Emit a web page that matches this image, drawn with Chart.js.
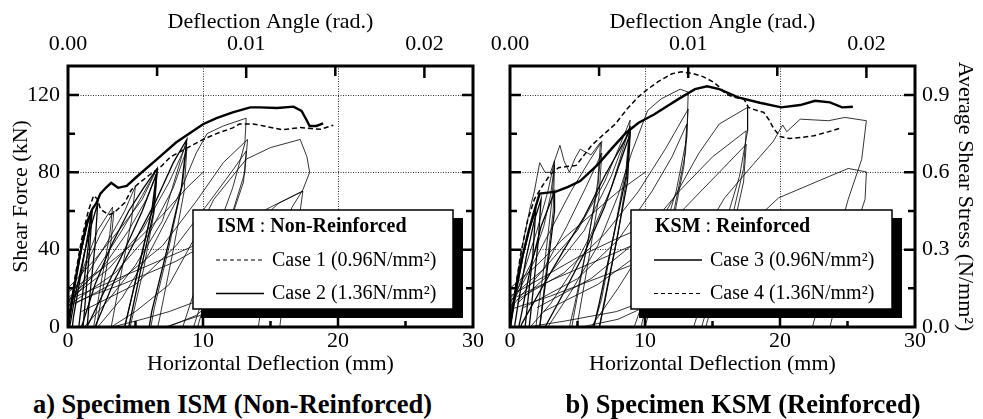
<!DOCTYPE html>
<html>
<head>
<meta charset="utf-8">
<script src="https://cdn.jsdelivr.net/npm/chart.js@4.4.0/dist/chart.umd.min.js"></script>
<style>
  html, body { margin: 0; padding: 0; background: #fff; }
  #wrap { position: relative; width: 983px; height: 419px; overflow: hidden; }
  canvas { position: absolute; top: 0; }
  #cvA { left: 0; }
  #cvB { left: 475px; }
  .cap { position: absolute; top: 389px; font: bold 26.5px/30px "Liberation Serif", "Times New Roman", serif; text-align: center; white-space: nowrap; color: #000; }
</style>
</head>
<body>
<div id="wrap">
  <canvas id="cvA" width="490" height="380"></canvas>
  <canvas id="cvB" width="508" height="380"></canvas>
  <div class="cap" style="left:0;width:465px">a) Specimen ISM (Non-Reinforced)</div>
  <div class="cap" style="left:503px;width:480px">b) Specimen KSM (Reinforced)</div>
</div>
<script>
// axis ticks
var mmTicks = [0, 5, 10, 15, 20, 25, 30];
var mmLabels = [0, 10, 20, 30];
var kNTicks = [0, 20, 40, 60, 80, 100, 120];
var kNLabels = [0, 40, 80, 120];
var angleTicks = [0, 0.005, 0.01, 0.015, 0.02];
var angleLabels = [0, 0.01, 0.02];
var stressTicks = [0, 0.15, 0.3, 0.45, 0.6, 0.75, 0.9];
var stressLabels = [0, 0.3, 0.6, 0.9];
var MM_PER_RAD = 1320;   // 0.01 rad = 13.2 mm
var KN_PER_MPA = 133.33; // 120 kN = 0.9 N/mm2

// ISM (non-reinforced) : [deflection mm, shear kN]
var ismCase1 = [[0,0],[0.5,25],[1.0,45],[1.5,60],[1.9,68],[2.2,66],[2.4,61],[3.0,58],[3.4,59],[4.2,64.3],[4.7,71],[5.2,74],[6.0,78.5],[6.8,82.4],[7.6,88],[8.8,92.5],[10,97],[11,100],[12.2,103],[12.7,105],[13.7,105],[14.5,104],[15.9,102],[17.2,103.2],[18.2,102.5],[18.7,102.3],[19.65,104.4]];
var ismCase2 = [[0,0],[0.4,18],[0.9,38],[1.4,54],[1.8,61],[2.1,64],[2.4,69],[2.8,72],[3.2,74.6],[3.7,72],[4.35,73],[5.3,79],[6.6,86.8],[8,95.4],[10,104.9],[11,108],[12.2,111],[13.5,113.6],[14.2,113.6],[15.5,113.3],[16.7,114],[17.3,111.8],[17.7,106.7],[17.9,104],[18.4,104],[18.9,105.3]];
var ismBold = [
  [[0,0],[0.5,22],[1.0,40],[1.4,52],[1.7,60],[1.5,42],[1.1,18],[0.8,0],[0.6,-10]],
  [[0.2,-8],[0.4,5],[0.9,25],[1.4,45],[1.8,61],[1.6,40],[1.3,15],[1.0,-10]],
  [[0,-5],[0.5,15],[1.2,38],[1.7,52],[2.2,64],[2.0,42],[1.6,15],[1.3,-10]],
  [[0.6,-8],[1.0,0],[2.0,22],[3.2,42],[4.5,60],[5.6,72],[6.6,82],[6.2,60],[5.2,30],[4.2,0],[3.9,-8]],
  [[1.5,-8],[2.0,0],[3.5,25],[5,45],[6.5,65],[7.8,85],[8.8,97],[8.4,72],[7.4,42],[6.2,8],[5.9,-5]],
  [[1,-6],[1.4,0],[2.8,20],[4.2,40],[5.5,60],[6.6,80],[6.3,58],[5.4,30],[4.5,0],[4.3,-6]]
];
var ismThin = [
  [[-0.3,-10],[0,6],[1,28],[2.2,50],[3.3,62],[3.1,48],[2.5,25],[1.9,0],[1.7,-8]],
  [[0,12],[1.2,30],[2.4,48],[3.4,60],[3.2,45],[2.6,20],[2.1,0],[1.9,-8]],
  [[0,10],[1.5,28],[3,45],[4.2,60],[5,73],[4.7,55],[4,30],[3.2,0],[3,-8]],
  [[0,12],[2,28],[4,50],[5.5,68],[6.6,82],[6.3,62],[5.4,35],[4.2,0],[3.9,-8]],
  [[0,15],[2.5,30],[4.5,50],[5.8,66],[6.6,80],[6.4,60],[5.6,30],[4.6,0],[4.3,-8]],
  [[0,14],[3,30],[5.5,50],[7.5,75],[8.8,95],[8.5,75],[7.5,42],[6.4,10],[6,-5]],
  [[0.2,12],[3.5,28],[6,48],[7.8,72],[8.8,92],[8.6,70],[7.8,40],[6.8,5],[6.5,-5]],
  [[1.5,-8],[2.2,0],[4,15],[6,38],[8,65],[9.5,90],[10.3,100],[11.5,104],[13.2,108],[13.1,95],[12.2,72],[10.8,45],[9.2,15],[8.5,0],[8.2,-5]],
  [[0.5,12],[4,25],[7,42],[9.5,65],[11.5,85],[13.3,97],[13.1,80],[12,55],[10.6,28],[9.3,0],[9,-5]],
  [[1,8],[5,22],[8,42],[10.5,65],[12.3,82],[13.2,91],[13,75],[11.8,50],[10.5,22],[9.6,0],[9.3,-5]],
  [[2.6,-5],[3.2,0],[5,8],[7.5,22],[9.3,45],[10.8,66],[13.2,86.8],[15,92.8],[17.2,97],[17.7,88],[17.9,80],[17.4,71],[16.6,62],[15.6,45],[14.8,25],[14.2,5],[14,-5]],
  [[7,-3],[7.4,0],[9.5,6],[11.5,18],[13,38],[14.2,55],[15.6,64],[17.4,70.3],[17.1,55],[16.5,35],[15.9,12],[15.6,-5]],
  [[-0.5,10],[0,14],[3,23],[6,32],[9,41],[12,51],[15,62],[17.4,70.3]],
  [[-0.4,8],[0,11],[2,17],[4,22],[6,28],[8,34],[10,42]],
  [[0,20],[2,35],[4,52],[5.5,66],[6.6,82]],
  [[0,18],[2.5,30],[5,44],[7,58],[8.8,72],[10,80]],
  [[0.8,-4],[1.2,0],[3,14],[5,32],[7,55],[8.8,97]],
  [[3,-3],[3.3,0],[5.5,4],[7.5,8],[9.8,14]],
  [[6.8,-2],[7.2,0],[8.5,3],[9.8,6]]
];

// KSM (reinforced)
var ksmCase3 = [[0,0],[0.4,18],[0.9,36],[1.4,50],[1.8,60],[2.2,69],[2.8,69.5],[3.4,70],[4.3,72.5],[5.2,75.5],[6.5,84],[7.5,92],[8.6,100.5],[9.5,105.5],[10.7,110],[11.6,114],[12.5,118],[13.7,123],[14.6,124.5],[15.5,123],[16.9,118.8],[18.5,116],[20.1,113.6],[21.5,114.8],[22.6,117],[23.7,116.2],[24.6,113.6],[25.4,113.9]];
var ksmCase4 = [[0,0],[0.4,20],[0.8,38],[1.3,55],[1.8,66],[2.4,73],[3.0,79],[3.6,82.4],[4.2,83],[4.9,83.6],[5.5,89],[6.05,94],[7,100],[7.8,105],[8.7,113],[9.5,119],[10.2,123],[11,127],[12,131],[12.7,132],[13.5,131.2],[14.3,129.5],[15.1,126.6],[15.6,123.5],[16,120.5],[16.6,118.8],[17.3,118],[17.5,116],[17.65,113.6],[18.2,112.2],[18.8,111],[19.2,107],[19.5,103],[20,98.5],[20.7,97.5],[21.5,98],[22.5,98.9],[23.5,100.8],[24.4,102.7]];
var ksmBold = [
  [[0,0],[0.5,20],[1.0,38],[1.5,52],[1.9,60],[1.7,38],[1.3,12],[1.0,-8]],
  [[0.2,-6],[0.6,12],[1.2,36],[1.8,55],[2.3,66],[2.1,45],[1.7,18],[1.3,-8]],
  [[0.4,-8],[0.8,5],[1.5,30],[2.3,52],[3.3,70],[3.3,60],[2.8,32],[2.2,0],[2,-8]],
  [[0.5,-5],[0.9,2],[2.5,22],[4,40],[5.5,57],[7,78],[8.9,101.5],[8.6,78],[7.7,48],[6.6,12],[6.2,0],[6,-5]],
  [[2,-5],[2.6,0],[4,18],[5.5,38],[7,62],[8,82],[8.9,100],[8.7,75],[7.9,45],[6.9,10],[6.5,-5]]
];
var ksmThin = [
  [[0,0],[0.5,25],[1.0,45],[1.5,62],[1.8,70],[2.2,85],[2.6,80],[3.0,80],[3.4,88],[3.7,94],[4.0,86],[4.4,80],[4.8,87],[5.2,92],[6.0,89],[6.7,95.5],[6.5,75],[5.8,45],[4.8,12],[4.4,0],[4.2,-8]],
  [[0,8],[1,28],[2,50],[2.8,70],[3.3,86],[3.1,65],[2.6,35],[2.0,5],[1.8,-8]],
  [[0,12],[1.5,32],[2.5,52],[3.0,68],[3.3,84],[3.2,60],[2.7,30],[2.2,0],[2.0,-8]],
  [[0,10],[1.5,30],[3,50],[4.5,70],[5.8,85],[6.8,96],[6.5,72],[5.7,42],[4.7,5],[4.4,-8]],
  [[0.3,12],[2.5,30],[4.2,52],[5.6,72],[6.8,90],[6.6,68],[5.9,38],[5.0,2],[4.8,-8]],
  [[0,15],[2.5,30],[5,50],[7,75],[8.2,95],[8.9,107],[8.6,82],[7.8,52],[6.8,15],[6.2,0],[6,-5]],
  [[0.5,12],[3,28],[5.5,50],[7.5,78],[8.9,104],[8.7,80],[8,48],[7,12],[6.6,0],[6.4,-5]],
  [[2,-10],[2.8,0],[4.5,18],[6.5,42],[8,68],[9,90],[10.2,112],[11.2,118],[12.6,123],[13.2,121.5],[13.1,98],[12.3,70],[11,40],[9.6,8],[9.2,0],[9,-5]],
  [[0.5,14],[4,28],[7,48],[9.5,70],[11.5,92],[13.2,112.7],[13,90],[12.2,62],[11,32],[9.8,3],[9.6,-5]],
  [[1,10],[5,25],[8,45],[10.5,70],[12,88],[13.1,105],[12.9,84],[12.1,55],[11,25],[10,0],[9.8,-5]],
  [[5,-10],[6,0],[8,20],[10,42],[12,65],[14,90],[15.5,105],[17.6,113.6],[17.6,101.5],[17.0,78],[15.8,50],[14.5,20],[13.6,0],[13.4,-5]],
  [[2,10],[6,25],[9.5,45],[12.5,70],[15,88],[17.5,101.5],[17.3,82],[16.4,55],[15.2,25],[14.2,0],[14,-5]],
  [[2.5,8],[6.5,22],[10,40],[13,62],[15.5,80],[17.5,94.5],[17.3,75],[16.5,50],[15.4,22],[14.5,0],[14.3,-5]],
  [[4.8,-3],[5.3,0],[8,4],[10.5,12],[12.5,28],[14.3,48],[15.9,66.8],[18,84],[19.5,96],[20.2,104.5],[20.5,101],[21.5,107.5],[23.6,106.7],[24.8,108.4],[26.4,106.7],[26.05,86.7],[25.05,66],[24.1,42],[23.1,18],[22.4,0],[22.2,-5]],
  [[0.8,-5],[1.3,0],[4,3],[7.9,8],[11,16],[14,30],[17,48],[19.9,66.8],[23,76],[25.05,82],[26.4,80.2],[26.3,66],[25.3,45],[24.4,20],[23.7,0],[23.5,-5]],
  [[-0.5,10],[0,14],[3,24],[6,33],[9,42],[12,52]],
  [[-0.4,12],[0,16],[2.5,26],[5,36],[8,46],[10,52]],
  [[-0.3,6],[0,9],[3,16],[6,24],[9,32]],
  [[0,20],[2,32],[4,46],[6,58],[8,70],[10,80]],
  [[1,-4],[1.5,0],[3,12],[4.5,28],[6,48],[7.5,72],[8.9,104]]
];

Chart.defaults.font.family = '"Liberation Serif", "Times New Roman", serif';
Chart.defaults.font.size = 22;
Chart.defaults.color = '#000';

function pts(a) { return a.map(function (p) { return {x: p[0], y: p[1]}; }); }
function line(a, w, dash) {
  return {data: pts(a), showLine: true, borderColor: '#000', borderWidth: w, borderDash: dash || [],
          pointRadius: 0, pointHoverRadius: 0, fill: false, tension: 0};
}
function gridAt(vals) {
  return function (c) { return (c.tick && vals.indexOf(c.tick.value) >= 0) ? '#333' : 'rgba(0,0,0,0)'; };
}
function setTicks(vals) { return function (s) { s.ticks = vals.map(function (v) { return {value: v}; }); }; }

function drawLegend(ctx, a, lg) {
  var x = a.left + lg.dx, y = a.top + 144, w = lg.w, h = 99;
  ctx.fillStyle = '#000';
  ctx.fillRect(x + 8, y + 8, w + 2, h + 1);
  ctx.fillStyle = '#fff';
  ctx.fillRect(x, y, w, h);
  ctx.lineWidth = 1.5;
  ctx.strokeStyle = '#000';
  ctx.strokeRect(x, y, w, h);
  ctx.fillStyle = '#000';
  ctx.textAlign = 'left';
  ctx.textBaseline = 'alphabetic';
  var tx = x + 24;
  lg.head.forEach(function (p) {
    ctx.font = (p[1] ? 'bold ' : '') + '20px "Liberation Serif"';
    ctx.fillText(p[0], tx, y + 22);
    tx += ctx.measureText(p[0]).width;
  });
  lg.rows.forEach(function (r, i) {
    var ly = y + (i === 0 ? 50 : 83.5);
    ctx.beginPath();
    ctx.setLineDash(r.dash ? [4, 3] : []);
    ctx.lineWidth = r.dash ? 1.2 : 1.6;
    ctx.moveTo(x + 23, ly);
    ctx.lineTo(x + 71, ly);
    ctx.stroke();
    ctx.setLineDash([]);
    ctx.font = '20px "Liberation Serif"';
    ctx.fillText(r.text, x + 79, y + (i === 0 ? 56 : 89));
  });
}

function decoPlugin(lg) {
  return {
    id: 'deco',
    afterDatasetsDraw: function (chart) {
      var ctx = chart.ctx, a = chart.chartArea;
      var xs = chart.scales.x, ys = chart.scales.y, xt = chart.scales.xTop;
      ctx.save();
      drawLegend(ctx, a, lg);
      ctx.strokeStyle = '#000';
      ctx.lineWidth = 2.5;
      ctx.beginPath();
      mmTicks.forEach(function (v) {
        if (v <= 0 || v >= 30) return;
        var px = xs.getPixelForValue(v), len = mmLabels.indexOf(v) >= 0 ? 9 : 6;
        ctx.moveTo(px, a.bottom); ctx.lineTo(px, a.bottom - len);
      });
      angleTicks.forEach(function (v) {
        if (v <= 0) return;
        var px = xt.getPixelForValue(v), len = angleLabels.indexOf(v) >= 0 ? 12 : 10;
        ctx.moveTo(px, a.top); ctx.lineTo(px, a.top + len);
      });
      kNTicks.forEach(function (v) {
        if (v <= 0) return;
        var py = ys.getPixelForValue(v), len = kNLabels.indexOf(v) >= 0 ? 11 : 7;
        ctx.moveTo(a.left, py); ctx.lineTo(a.left + len, py);
        ctx.moveTo(a.right, py); ctx.lineTo(a.right - len, py);
      });
      ctx.stroke();
      ctx.lineWidth = 3;
      ctx.strokeRect(a.left, a.top, a.right - a.left, a.bottom - a.top);
      ctx.restore();
    }
  };
}

function xScales() {
  return {
    x: {type: 'linear', position: 'bottom', min: 0, max: 30,
        afterBuildTicks: setTicks(mmTicks), afterFit: function (s) { s.height = 53; },
        ticks: {autoSkip: false, maxRotation: 0, padding: 1,
                callback: function (v) { return mmLabels.indexOf(v) >= 0 ? String(v) : ''; }},
        grid: {drawTicks: false, lineWidth: 1, color: gridAt([10, 20])},
        border: {display: false, dash: [1, 1.5]},
        title: {display: true, text: 'Horizontal Deflection (mm)', padding: {top: 0, bottom: 2.5}}},
    xTop: {type: 'linear', position: 'top', min: 0, max: 30 / MM_PER_RAD,
        afterBuildTicks: setTicks(angleTicks), afterFit: function (s) { s.height = 66; },
        ticks: {autoSkip: false, maxRotation: 0, padding: 8.5,
                callback: function (v) { return angleLabels.indexOf(v) >= 0 ? v.toFixed(2) : ''; }},
        grid: {display: false, drawTicks: false},
        border: {display: false},
        title: {display: true, text: 'Deflection Angle (rad.)', padding: {top: 9.4, bottom: 0}}}
  };
}

function datasets(thin, bold, dashEnv, solidEnv) {
  var ds = [];
  thin.forEach(function (l) { ds.push(line(l, 0.8)); });
  bold.forEach(function (l) { ds.push(line(l, 1.3)); });
  ds.push(line(dashEnv, 1.5, [5, 3]));
  ds.push(line(solidEnv, 2.4));
  return ds;
}

// a) ISM
var sA = xScales();
sA.y = {type: 'linear', position: 'left', min: 0, max: 135,
        afterBuildTicks: setTicks(kNTicks), afterFit: function (s) { s.width = 68; },
        ticks: {autoSkip: false, padding: 8,
                callback: function (v) { return kNLabels.indexOf(v) >= 0 ? String(v) : ''; }},
        grid: {drawTicks: false, lineWidth: 1, color: gridAt([40, 80, 120])},
        border: {display: false, dash: [1, 1.5]},
        title: {display: true, text: 'Shear Force (kN)', padding: {top: 7.7, bottom: 0}}};
new Chart(document.getElementById('cvA'), {
  type: 'scatter',
  data: {datasets: datasets(ismThin, ismBold, ismCase1, ismCase2)},
  options: {
    responsive: false, animation: false, devicePixelRatio: 1,
    layout: {padding: {left: 0, right: 17, top: 0, bottom: 0}},
    plugins: {legend: {display: false}, tooltip: {enabled: false}},
    events: [],
    scales: sA
  },
  plugins: [decoPlugin({dx: 125, w: 260,
    head: [['ISM', true], [' : ', false], ['Non-Reinforced', true]],
    rows: [{dash: true, text: 'Case 1 (0.96N/mm\u00b2)'}, {dash: false, text: 'Case 2 (1.36N/mm\u00b2)'}]})]
});

// b) KSM
var sB = xScales();
sB.y = {type: 'linear', display: false, min: 0, max: 135,
        afterBuildTicks: setTicks(kNTicks)};
sB.y2 = {type: 'linear', position: 'right', min: 0, max: 135 / KN_PER_MPA,
        afterBuildTicks: setTicks(stressTicks), afterFit: function (s) { s.width = 68; },
        ticks: {autoSkip: false, padding: 7,
                callback: function (v) { return stressLabels.indexOf(v) >= 0 ? v.toFixed(1) : ''; }},
        grid: {drawTicks: false, lineWidth: 1, color: gridAt([0.3, 0.6, 0.9])},
        border: {display: false, dash: [1, 1.5]},
        title: {display: true, text: 'Average Shear Stress (N/mm\u00b2)', padding: {top: 5.4, bottom: 0}}};
new Chart(document.getElementById('cvB'), {
  type: 'scatter',
  data: {datasets: datasets(ksmThin, ksmBold, ksmCase4, ksmCase3)},
  options: {
    responsive: false, animation: false, devicePixelRatio: 1,
    layout: {padding: {left: 35, right: 0, top: 0, bottom: 0}},
    plugins: {legend: {display: false}, tooltip: {enabled: false}},
    events: [],
    scales: sB
  },
  plugins: [decoPlugin({dx: 121, w: 261,
    head: [['KSM', true], [' : ', false], ['Reinforced', true]],
    rows: [{dash: false, text: 'Case 3 (0.96N/mm\u00b2)'}, {dash: true, text: 'Case 4 (1.36N/mm\u00b2)'}]})]
});
</script>
</body>
</html>
